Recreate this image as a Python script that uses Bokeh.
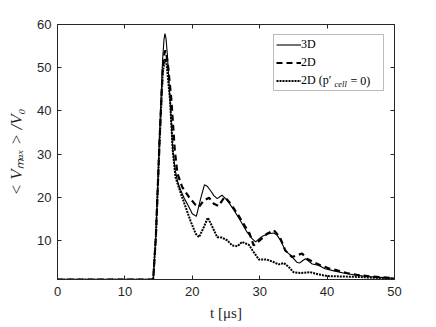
from bokeh.plotting import figure
from bokeh.models import (Legend, LegendItem, Label, LinearAxis, Range1d, FixedTicker,
                          CustomJSTickFormatter)
from bokeh.embed import file_html
from bokeh.resources import INLINE

# ---- data ----
t_3d = [0, 14.2, 14.6, 15.15, 15.6, 15.8, 15.94, 16.1, 16.3, 16.7, 17.1, 17.5, 17.9, 18.3, 18.8, 19.25, 20.0, 20.6,
        21.2, 21.8, 22.2, 22.7, 23.2, 23.7, 24.4, 25.2, 26.2, 27.1, 28.1, 28.9, 29.4, 29.9, 30.4, 31.3, 32.1,
        32.6, 33.1, 33.8, 34.6, 35.5, 35.9, 36.4, 36.8, 37.3, 37.8, 38.7, 39.7, 41.0, 42.4, 43.9, 45.9, 47.9, 50.0]
v_3d = [1.0, 1.0, 11.6, 34.7, 52.0, 56.5, 57.9, 56.8, 53.0, 42.5, 30.9, 26.0, 23.2, 21.6, 19.8, 18.5, 16.2, 15.6,
        19.5, 22.9, 22.6, 21.6, 20.4, 19.7, 20.5, 19.3, 17.0, 14.7, 12.0, 10.4, 9.7, 10.4, 11.0, 11.6, 11.75,
        11.2, 10.0, 7.7, 6.6, 5.0, 4.8, 5.4, 5.8, 5.2, 4.6, 4.3, 3.5, 3.0, 2.5, 2.1, 1.7, 1.5, 1.3]

t_2d = [0, 14.2, 14.6, 15.15, 15.6, 15.85, 16.0, 16.15, 16.4, 16.9, 17.4, 17.8, 18.5, 19.5, 20.5, 21.0, 21.7,
        22.5, 23.2, 23.9, 24.4, 24.8, 25.7, 26.7, 27.6, 28.5, 29.1, 30.0, 31.1, 32.1, 33.0, 33.8,
        34.8, 35.5, 36.3, 37.0, 38.0, 39.0, 40.2, 41.5, 42.9, 44.4, 46.4, 48.4, 50.0]
v_2d = [1.0, 1.0, 11.0, 33.5, 49.5, 53.2, 54.0, 53.3, 50.5, 42.5, 30.9, 25.5, 22.4, 20.1, 18.2, 17.8, 19.3,
        19.9, 18.5, 18.0, 19.2, 20.1, 18.5, 16.2, 13.9, 11.6, 8.9, 10.05, 11.6, 12.4, 10.8, 7.7,
        6.2, 6.6, 7.0, 5.8, 5.0, 4.3, 3.6, 3.1, 2.5, 2.1, 1.7, 1.5, 1.25]

t_2d0 = [0, 14.2, 14.6, 15.15, 15.6, 15.85, 16.0, 16.15, 16.3, 16.7, 17.1, 17.5, 18.3, 19.0, 19.7, 20.5, 21.0,
         21.7, 22.3, 23.0, 23.7, 24.4, 25.2, 25.9, 26.7, 27.4, 28.4, 29.1, 29.9, 31.1, 32.1,
         32.8, 33.6, 34.3, 35.0, 36.0, 37.5, 38.7, 40.0, 42.0, 44.4, 46.9, 50.0]
v_2d0 = [1.0, 1.0, 11.0, 33.0, 48.5, 51.4, 52.0, 51.2, 49.0, 42.5, 30.9, 24.7, 20.9, 17.8, 14.7, 11.6, 10.8,
         13.1, 15.3, 13.1, 10.8, 10.7, 10.05, 8.9, 8.7, 9.7, 9.0, 7.35, 5.6, 5.6, 5.0,
         4.5, 4.8, 3.9, 2.7, 2.5, 2.7, 2.2, 1.8, 1.7, 1.6, 1.4, 1.2]

x_ticks = [0, 10, 20, 30, 40, 50]
y_ticks = [10, 20, 30, 40, 50, 60]
labels = ["3D", "2D", "2D (p\u2032"]

TXT = "#262626"

p = figure(width=436, height=327, x_range=Range1d(0, 50), y_range=Range1d(1, 60),
           output_backend="svg", toolbar_location=None,
           min_border_left=57, min_border_right=42, min_border_top=24, min_border_bottom=48)
p.background_fill_color = "white"
p.border_fill_color = "white"
p.grid.visible = False
p.outline_line_color = TXT

for ax in (p.xaxis[0], p.yaxis[0]):
    ax.major_tick_in = 4
    ax.major_tick_out = 0
    ax.minor_tick_line_color = None
    ax.axis_line_color = TXT
    ax.major_tick_line_color = TXT
    ax.major_label_text_font = "Liberation Sans"
    ax.major_label_text_font_size = "13px"
    ax.major_label_text_color = TXT
    ax.axis_label_text_font = "Liberation Serif"
    ax.axis_label_text_color = TXT

p.xaxis[0].ticker = FixedTicker(ticks=x_ticks)
p.yaxis[0].ticker = FixedTicker(ticks=y_ticks)
p.xaxis[0].axis_label = "t [\u03bcs]"
p.xaxis[0].axis_label_text_font_size = "15px"
p.xaxis[0].axis_label_text_font_style = "normal"
p.xaxis[0].major_label_standoff = 7
p.xaxis[0].axis_label_standoff = 6
p.yaxis[0].axis_label = "< V\u2098\u2090\u2093 > /V\u2080"
p.yaxis[0].axis_label_text_font_size = "17px"
p.yaxis[0].axis_label_text_font_style = "italic"
p.yaxis[0].major_label_standoff = 6
p.yaxis[0].axis_label_standoff = 8

blank = CustomJSTickFormatter(code="return ''")
top = LinearAxis(ticker=FixedTicker(ticks=x_ticks), formatter=blank,
                 major_tick_in=4, major_tick_out=0, minor_tick_line_color=None,
                 axis_line_color=TXT, major_tick_line_color=TXT, major_label_standoff=0)
right = LinearAxis(ticker=FixedTicker(ticks=y_ticks), formatter=blank,
                   major_tick_in=4, major_tick_out=0, minor_tick_line_color=None,
                   axis_line_color=TXT, major_tick_line_color=TXT, major_label_standoff=0)
p.add_layout(top, "above")
p.add_layout(right, "right")

r3 = p.line(t_3d, v_3d, line_color="black", line_width=1.1)
r2 = p.line(t_2d, v_2d, line_color="black", line_width=2.2, line_dash="6 4")
r0 = p.line(t_2d0, v_2d0, line_color="black", line_width=2.0, line_dash="2 1")

legend = Legend(items=[LegendItem(label=labels[0], renderers=[r3]),
                       LegendItem(label=labels[1], renderers=[r2]),
                       LegendItem(label=labels[2], renderers=[r0])],
                location="top_right", margin=10, padding=2, spacing=3,
                glyph_width=25, glyph_height=15, label_height=15, label_width=80,
                label_standoff=0, label_text_font="Liberation Serif",
                label_text_font_size="12px", label_text_color="black",
                border_line_color="#777777", border_line_width=1,
                background_fill_alpha=0.0)
p.add_layout(legend)

# subscript and remainder of the third legend entry (screen units, relative to frame)
p.add_layout(Label(x=277, y=195.5, x_units="screen", y_units="screen", text="cell",
                   text_font="Liberation Serif", text_font_size="8.5px", text_font_style="italic",
                   text_baseline="middle", text_color="black", level="overlay"))
p.add_layout(Label(x=293, y=199, x_units="screen", y_units="screen", text="= 0)",
                   text_font="Liberation Serif", text_font_size="12px",
                   text_baseline="middle", text_color="black", level="overlay"))

open("out.html", "w").write(file_html(p, INLINE))
